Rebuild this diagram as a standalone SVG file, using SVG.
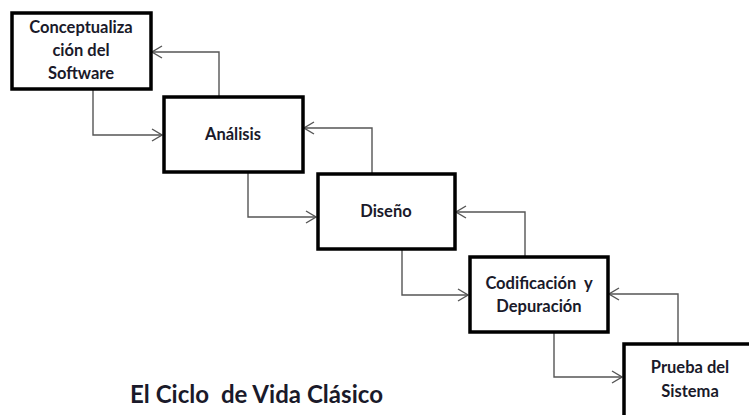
<svg xmlns="http://www.w3.org/2000/svg" width="749" height="415" viewBox="0 0 749 415">
<style>
.box{fill:#fff;stroke:#000;stroke-width:3.5}
.t{font-family:Lato,"Open Sans","Liberation Sans",sans-serif;font-weight:bold;font-size:16.5px;fill:#1a1a2a;text-anchor:middle}
.c{fill:none;stroke:#555;stroke-width:1.4}
</style>
<defs>
<marker id="a" viewBox="0 0 12 14" refX="11" refY="7" markerWidth="12" markerHeight="14" markerUnits="userSpaceOnUse" orient="auto">
<path d="M1,1 L11,7 L1,13" fill="none" stroke="#555" stroke-width="1.4"/>
</marker>
</defs>
<rect width="749" height="415" fill="#fff"/>
<g id="connectors">
<path class="c" d="M93,89 V135 H162" marker-end="url(#a)"/>
<path class="c" d="M219,97 V52 H152" marker-end="url(#a)"/>
<path class="c" d="M248,172 V217 H316" marker-end="url(#a)"/>
<path class="c" d="M372,174 V128 H304" marker-end="url(#a)"/>
<path class="c" d="M402,249 V295 H468" marker-end="url(#a)"/>
<path class="c" d="M525,257 V212 H456" marker-end="url(#a)"/>
<path class="c" d="M554,332 V377 H622" marker-end="url(#a)"/>
<path class="c" d="M678,343 V294 H609" marker-end="url(#a)"/>
</g>
<g id="n1">
<rect class="box" x="12" y="13" width="139" height="76"/>
<text class="t" x="81" y="33">Conceptualiza</text>
<text class="t" x="81" y="56">ción del</text>
<text class="t" x="81" y="79">Software</text>
</g>
<g id="n2">
<rect class="box" x="164" y="97" width="139" height="75"/>
<text class="t" x="233" y="140">Análisis</text>
</g>
<g id="n3">
<rect class="box" x="318" y="174" width="137" height="75"/>
<text class="t" x="386" y="217">Diseño</text>
</g>
<g id="n4">
<rect class="box" x="470" y="257" width="138" height="75"/>
<text class="t" x="539" y="289" xml:space="preserve">Codificación  y</text>
<text class="t" x="539" y="312">Depuración</text>
</g>
<g id="n5">
<rect class="box" x="624" y="344" width="140" height="80"/>
<text class="t" x="690" y="373">Prueba del</text>
<text class="t" x="690" y="397">Sistema</text>
</g>
<text x="130" y="403" textLength="253" xml:space="preserve" style="font-family:Lato,'Open Sans','Liberation Sans',sans-serif;font-weight:bold;font-size:24px;fill:#1a1a2a">El Ciclo  de Vida Clásico</text>
</svg>
